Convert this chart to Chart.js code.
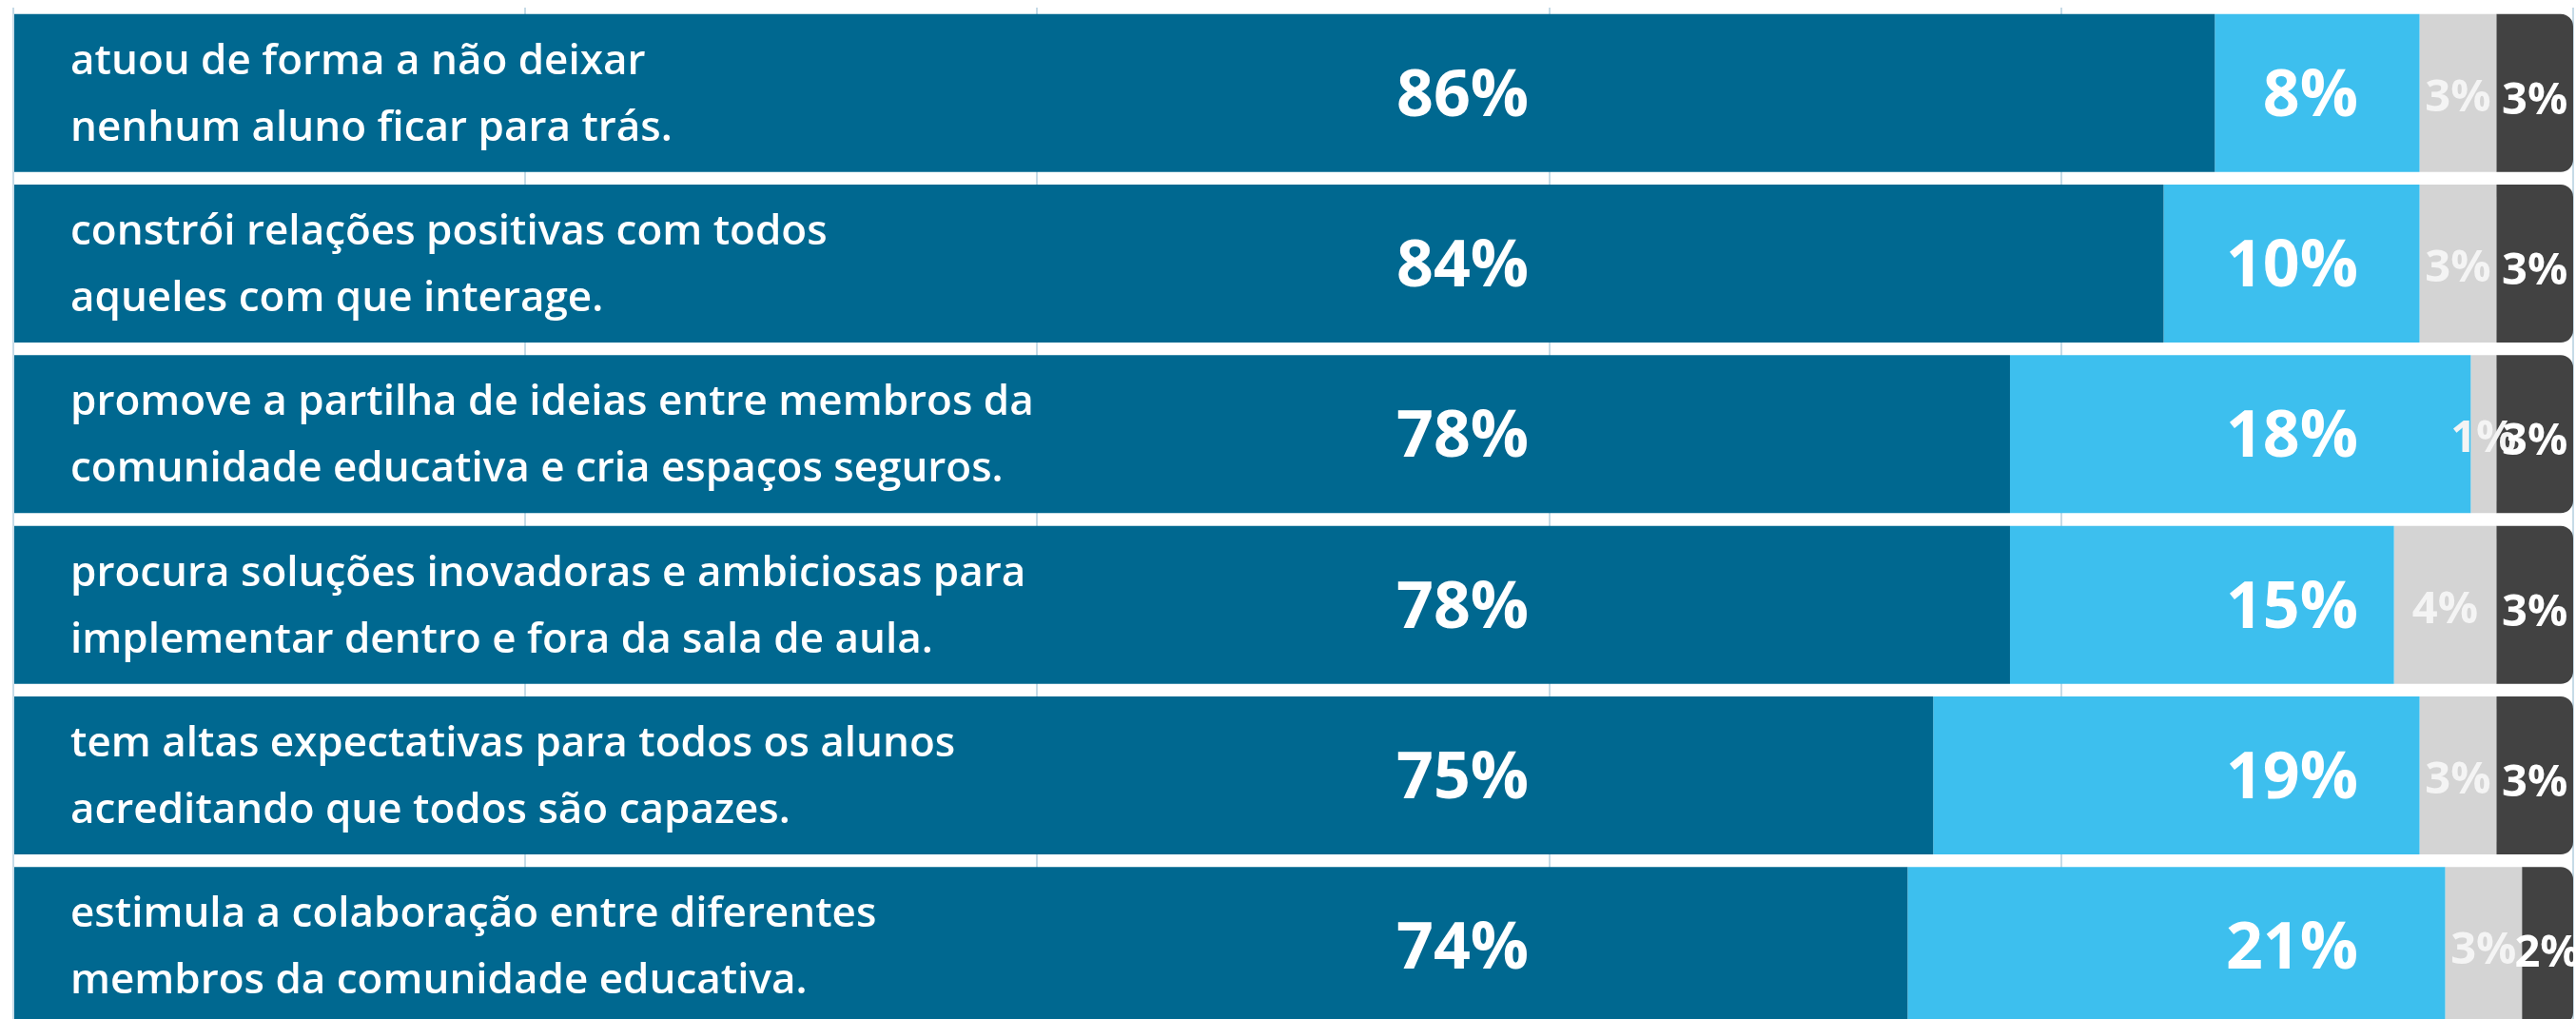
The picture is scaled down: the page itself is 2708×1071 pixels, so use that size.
<!DOCTYPE html>
<html lang="pt">
<head>
<meta charset="utf-8">
<title>Perfil do professor</title>
<script src="https://cdn.jsdelivr.net/npm/chart.js@4.4.1/dist/chart.umd.min.js"></script>
<style>
  html, body { margin: 0; padding: 0; background: #fff; overflow: hidden; }
  #wrap { position: relative; width: 2708px; height: 1084px; }
</style>
</head>
<body>
<div id="wrap"><canvas id="grafico"></canvas></div>
<script>
// afirmações (duas linhas cada)
const afirmacoes = [
  ['atuou de forma a não deixar', 'nenhum aluno ficar para trás.'],
  ['constrói relações positivas com todos', 'aqueles com que interage.'],
  ['promove a partilha de ideias entre membros da', 'comunidade educativa e cria espaços seguros.'],
  ['procura soluções inovadoras e ambiciosas para', 'implementar dentro e fora da sala de aula.'],
  ['tem altas expectativas para todos os alunos', 'acreditando que todos são capazes.'],
  ['estimula a colaboração entre diferentes', 'membros da comunidade educativa.']
];

// percentagens por resposta
const concordoTotalmente = [86, 84, 78, 78, 75, 74];
const concordo = [8, 10, 18, 15, 19, 21];
const discordo = [3, 3, 1, 4, 3, 3];
const naoSabe = [3, 3, 3, 3, 3, 2];

const ticksX = [0, 20, 40, 60, 80, 100];

const cores = ['#006890', '#3dbfee', '#d4d4d4', '#424242'];

// desenha textos dentro das barras
const rotulos = {
  id: 'rotulos',
  afterDatasetsDraw(chart) {
    const ctx = chart.ctx;
    const x = chart.scales.x;
    ctx.save();
    ctx.fillStyle = '#fff';

    // afirmação à esquerda
    const m0 = chart.getDatasetMeta(0);
    ctx.font = '600 44px "Open Sans"';
    ctx.textAlign = 'left';
    ctx.textBaseline = 'alphabetic';
    m0.data.forEach((bar, i) => {
      ctx.fillText(afirmacoes[i][0], chart.chartArea.left + 60, bar.y - 20);
      ctx.fillText(afirmacoes[i][1], chart.chartArea.left + 60, bar.y + 50);
    });

    // valores grandes, alinhados à direita em colunas fixas
    const colunas = [59.2, 91.6];
    ctx.font = 'bold 68px "Open Sans"';
    ctx.textAlign = 'right';
    [0, 1].forEach(d => {
      const meta = chart.getDatasetMeta(d);
      const valores = chart.data.datasets[d].data;
      meta.data.forEach((bar, i) => {
        ctx.fillText(valores[i] + '%', x.getPixelForValue(colunas[d]), bar.y + 24);
      });
    });

    // valores pequenos, centrados no segmento
    ctx.textAlign = 'center';
    [2, 3].forEach(d => {
      const meta = chart.getDatasetMeta(d);
      const valores = chart.data.datasets[d].data;
      ctx.font = 'bold 47px "Open Sans"';
      ctx.fillStyle = d === 2 ? '#f4f4f4' : '#fff';
      meta.data.forEach((bar, i) => {
        const cx = (bar.base + bar.x) / 2;
        ctx.fillText(valores[i] + '%', cx, bar.y + (d === 2 ? 19 : 22));
      });
    });
    ctx.restore();
  }
};

new Chart(document.getElementById('grafico'), {
  type: 'bar',
  data: {
    labels: afirmacoes.map(a => a.join(' ')),
    datasets: [
      { label: 'Concordo totalmente', data: concordoTotalmente, backgroundColor: cores[0] },
      { label: 'Concordo', data: concordo, backgroundColor: cores[1] },
      { label: 'Discordo', data: discordo, backgroundColor: cores[2] },
      { label: 'Não sabe', data: naoSabe, backgroundColor: cores[3], borderRadius: 13 }
    ]
  },
  options: {
    indexAxis: 'y',
    responsive: true,
    maintainAspectRatio: false,
    animation: false,
    layout: { padding: { left: 14, right: 3, top: 8, bottom: 0 } },
    datasets: {
      bar: { barPercentage: 0.926, categoryPercentage: 1, borderWidth: 0 }
    },
    plugins: {
      legend: { display: false },
      tooltip: { enabled: false }
    },
    scales: {
      x: {
        stacked: true,
        min: 0,
        max: 100,
        afterBuildTicks: s => { s.ticks = ticksX.map(v => ({ value: v })); },
        ticks: { display: false },
        border: { display: false },
        grid: { color: '#c6dbe7', lineWidth: 2, drawTicks: false }
      },
      y: {
        stacked: true,
        display: false
      }
    }
  },
  plugins: [rotulos]
});
</script>
</body>
</html>
